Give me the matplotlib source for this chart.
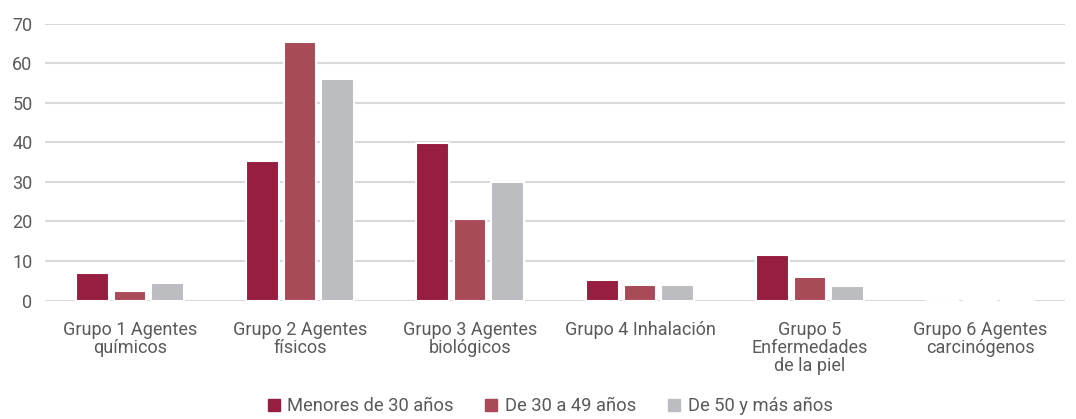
import numpy as np
import matplotlib
matplotlib.use("Agg")
import matplotlib.pyplot as plt
from matplotlib.lines import Line2D

categories = ["Grupo 1 Agentes\nquímicos", "Grupo 2 Agentes\nfísicos",
              "Grupo 3 Agentes\nbiológicos", "Grupo 4 Inhalación",
              "Grupo 5\nEnfermedades\nde la piel", "Grupo 6 Agentes\ncarcinógenos"]
series_names = ["Menores de 30 años", "De 30 a 49 años", "De 50 y más años"]
menores_30 = [7.0, 35.2, 39.7, 5.2, 11.4, 0.0]
de_30_49 = [2.5, 65.2, 20.5, 3.8, 6.0, 0.2]
de_50_mas = [4.3, 55.9, 29.9, 3.8, 3.7, 0.3]
colors = ["#971E40", "#A84A57", "#BCBDC1"]

plt.rcParams["font.family"] = ["Roboto", "DejaVu Sans"]
text_col = "#5a5a5a"

fig = plt.figure(figsize=(10.76, 4.19), dpi=100)
ax = fig.add_axes([45 / 1076, 1 - 300.5 / 419, 1020 / 1076, 277 / 419])

x = np.arange(len(categories))
step = 0.22
width = 0.19
for i, (vals, col) in enumerate(zip([menores_30, de_30_49, de_50_mas], colors)):
    ax.bar(x + (i - 1) * step, vals, width=width, color=col,
           edgecolor="white", linewidth=1.5, zorder=3)

ax.set_xlim(-0.5, len(categories) - 0.5)
ax.set_ylim(0, 70)
ax.set_yticks(range(0, 71, 10))
ax.grid(axis="y", color="#d9d9d9", linewidth=1.5, zorder=0)
ax.set_axisbelow(True)
for s in ax.spines.values():
    s.set_visible(False)
ax.tick_params(axis="both", length=0, colors=text_col)
ax.tick_params(axis="y", pad=9, labelsize=13)
ax.set_xticks(x)
ax.set_xticklabels(categories, fontsize=13, color=text_col, linespacing=1.0)
ax.tick_params(axis="x", pad=15)

handles = [Line2D([], [], marker="s", linestyle="none", markersize=8,
                  markerfacecolor=c, markeredgecolor=c) for c in colors]
fig.legend(handles, series_names, loc="lower center", ncol=3, frameon=False,
           bbox_to_anchor=(0.511, -0.03), fontsize=13.2, labelcolor=text_col,
           handletextpad=0.4, columnspacing=1.7, handlelength=0.7)

fig.savefig("out.png", dpi=100)
